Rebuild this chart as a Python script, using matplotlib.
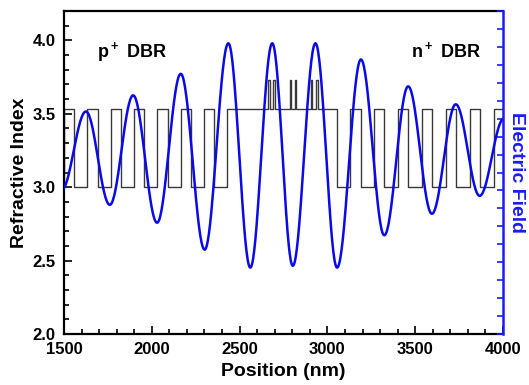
import numpy as np
import matplotlib
matplotlib.use("Agg")
import matplotlib.pyplot as plt
from matplotlib.ticker import MultipleLocator

plt.rcParams['font.family'] = ['Liberation Sans', 'DejaVu Sans']
plt.rcParams['font.weight'] = 'bold'
plt.rcParams['mathtext.fontset'] = 'custom'
plt.rcParams['mathtext.rm'] = 'Liberation Sans:bold'
plt.rcParams['mathtext.bf'] = 'Liberation Sans:bold'

# Refractive index profile (layer structure)
N_LOW = 3.0
N_HIGH = 3.53
N_QW = 3.73
left_start = 1500
left_pairs = 7
left_pair = [(58, N_HIGH), (75, N_LOW)]      # thickness (nm), index
cavity_end = 3053
right_pairs = 7
right_pair = [(77, N_LOW), (59, N_HIGH)]
qw_centers = [2668, 2697, 2791, 2819, 2910, 2940]
qw_width = 8

# Electric field extrema (position nm, arb. units on right axis)
field_x = [1485, 1625, 1761, 1894, 2030, 2165, 2301, 2436, 2561, 2686,
           2803, 2932, 3055, 3191, 3324, 3460, 3595, 3731, 3867, 4005]
field_y = [8.0, 12.4, 7.2, 13.3, 6.2, 14.5, 4.7, 16.2, 3.7, 16.2,
           3.8, 16.2, 3.7, 15.3, 5.5, 13.8, 6.7, 12.8, 7.7, 12.0]

# ------------------------------------------------------------
# build layer list
# ------------------------------------------------------------
layers = [(left_start - 20, left_start, N_LOW)]
pos = left_start
for _ in range(left_pairs):
    for thick, n in left_pair:
        layers.append((pos, pos + thick, n))
        pos += thick

cav_start = pos
for c in qw_centers:
    layers.append((pos, c - qw_width / 2, N_HIGH))
    layers.append((c - qw_width / 2, c + qw_width / 2, N_QW))
    pos = c + qw_width / 2
layers.append((pos, cavity_end, N_HIGH))
pos = cavity_end

for _ in range(right_pairs):
    for thick, n in right_pair:
        layers.append((pos, pos + thick, n))
        pos += thick

prof_x, prof_y = [], []
for x0, x1, n in layers:
    prof_x += [x0, x1]
    prof_y += [n, n]

# field curve: smooth half-cosine between read extrema
fx, fy = [], []
for i in range(len(field_x) - 1):
    t = np.linspace(0, 1, 40)
    fx.append(field_x[i] + (field_x[i + 1] - field_x[i]) * t)
    fy.append(field_y[i] + (field_y[i + 1] - field_y[i]) * (1 - np.cos(np.pi * t)) / 2)
fx = np.concatenate(fx)
fy = np.concatenate(fy)

# ------------------------------------------------------------
# plot
# ------------------------------------------------------------
fig = plt.figure(figsize=(5.29, 3.85), dpi=100)
ax = fig.add_axes([64 / 529, 1 - 334 / 385, (503 - 64) / 529, (334 - 11) / 385])
ax2 = ax.twinx()

ax.plot(prof_x, prof_y, color='#3a3a3a', lw=1.0)
ax2.plot(fx, fy, color='#0a0ae6', lw=1.8)

ax.set_xlim(1500, 4000)
ax.set_ylim(2.0, 4.2)
ax2.set_ylim(0, 18)

ax.xaxis.set_major_locator(MultipleLocator(500))
ax.xaxis.set_minor_locator(MultipleLocator(100))
ax.yaxis.set_major_locator(MultipleLocator(0.5))
ax.yaxis.set_minor_locator(MultipleLocator(0.1))
ax.yaxis.set_major_formatter(plt.FormatStrFormatter('%.1f'))
ax.tick_params(which='both', direction='in', top=False, right=False, labelsize=12, pad=6, width=1.2)
ax.tick_params(which='major', length=6)
ax.tick_params(which='minor', length=3.5)
for lab in ax.get_xticklabels() + ax.get_yticklabels():
    lab.set_fontweight('bold')

ax2.yaxis.set_major_locator(MultipleLocator(1))
ax2.tick_params(axis='y', direction='in', colors='#1a1aff', labelright=False, length=4, width=1.2)
ax2.spines['right'].set_color('#1a1aff')
ax2.spines['right'].set_linewidth(1.8)
ax.spines['right'].set_visible(False)
for s in ['left', 'top', 'bottom']:
    ax.spines[s].set_linewidth(1.6)
    ax2.spines[s].set_visible(False)

ax.set_xlabel('Position (nm)', fontsize=14, fontweight='bold', labelpad=4)
ax.set_ylabel('Refractive Index', fontsize=14, fontweight='bold', labelpad=3)
ax2.set_ylabel('Electric Field', fontsize=14, fontweight='bold', color='#1a1aff',
               rotation=270, labelpad=16)

ax.text(1686, 3.886, r'p$^+$ DBR', fontsize=13, fontweight='bold', ha='left', va='baseline')
ax.text(3476, 3.886, r'n$^+$ DBR', fontsize=13, fontweight='bold', ha='left', va='baseline')

fig.savefig('out.png', dpi=100)
